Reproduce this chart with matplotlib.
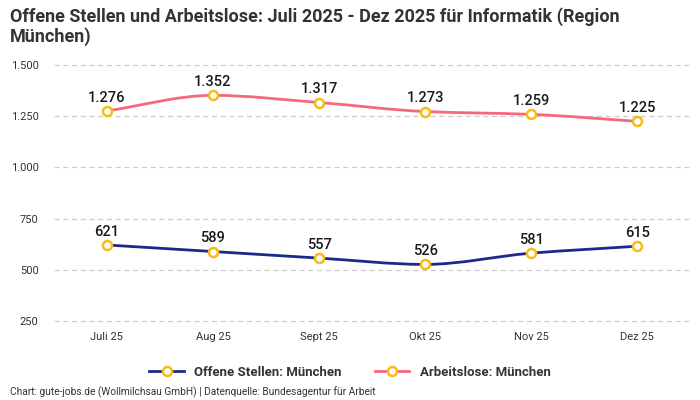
import numpy as np
import matplotlib
matplotlib.use("Agg")
import matplotlib.pyplot as plt
from matplotlib.path import Path
from matplotlib.patches import PathPatch
from matplotlib.lines import Line2D
from matplotlib.ticker import FuncFormatter

plt.rcParams['font.family'] = ['Roboto', 'DejaVu Sans']

monate = ['Juli 25', 'Aug 25', 'Sept 25', 'Okt 25', 'Nov 25', 'Dez 25']
offene_stellen = [621, 589, 557, 526, 581, 615]
arbeitslose = [1276, 1352, 1317, 1273, 1259, 1225]

BLAU = '#1b2a8a'
ROSA = '#f7677f'
GELB = '#f6bb1a'


def de_zahl(v):
    return f"{int(round(v)):,}".replace(',', '.')


def glatter_pfad(x, y):
    # monotone kubische Kurve (Fritsch-Carlson) als Bezier-Pfad
    x = np.asarray(x, float)
    y = np.asarray(y, float)
    h = np.diff(x)
    d = np.diff(y) / h
    m = np.zeros_like(y)
    m[0], m[-1] = d[0], d[-1]
    for i in range(1, len(y) - 1):
        if d[i - 1] * d[i] <= 0:
            m[i] = 0
        else:
            m[i] = 2 / (1 / d[i - 1] + 1 / d[i])
    verts = [(x[0], y[0])]
    codes = [Path.MOVETO]
    for i in range(len(x) - 1):
        verts += [(x[i] + h[i] / 3, y[i] + m[i] * h[i] / 3),
                  (x[i + 1] - h[i] / 3, y[i + 1] - m[i + 1] * h[i] / 3),
                  (x[i + 1], y[i + 1])]
        codes += [Path.CURVE4] * 3
    return Path(verts, codes)


fig = plt.figure(figsize=(7, 4), dpi=100)
ax = fig.add_axes([0.077, 0.19, 0.909, 0.6525])

xs = np.arange(len(monate))
for werte, farbe in [(offene_stellen, BLAU), (arbeitslose, ROSA)]:
    ax.add_patch(PathPatch(glatter_pfad(xs, werte), facecolor='none',
                           edgecolor=farbe, lw=2, zorder=3))
    ax.plot(xs, werte, ls='none', marker='o', ms=6.5, mfc='white',
            mec=GELB, mew=1.8, zorder=4)
    for xi, v in zip(xs, werte):
        ax.annotate(de_zahl(v), (xi, v), xytext=(0, 4.5), textcoords='offset points',
                    ha='center', va='bottom', fontsize=10.5, fontweight='medium',
                    color='#1a1a1a', zorder=5)

ax.set_xlim(-0.5, len(monate) - 0.5)
ax.set_ylim(235, 1510)
ax.set_yticks([250, 500, 750, 1000, 1250, 1500])
ax.yaxis.set_major_formatter(FuncFormatter(lambda v, p: de_zahl(v)))
ax.set_xticks(xs)
ax.set_xticklabels(monate)
ax.tick_params(axis='both', length=0, labelsize=8, colors='#333333')
ax.tick_params(axis='x', pad=6)
ax.tick_params(axis='y', pad=11)
ax.grid(axis='y', ls=(0, (4, 3)), color='#cccccc', lw=0.9)
ax.set_axisbelow(True)
for s in ax.spines.values():
    s.set_visible(False)

fig.text(0.014, 0.982, 'Offene Stellen und Arbeitslose: Juli 2025 - Dez 2025 für Informatik (Region\nMünchen)',
         ha='left', va='top', fontsize=13, fontweight='bold', color='#333333', linespacing=1.1)

griffe = [Line2D([0], [0], color=BLAU, lw=2, marker='o', ms=6.5, mfc='white', mec=GELB, mew=1.8),
          Line2D([0], [0], color=ROSA, lw=2, marker='o', ms=6.5, mfc='white', mec=GELB, mew=1.8)]
leg = fig.legend(griffe, ['Offene Stellen: München', 'Arbeitslose: München'],
                 loc='center', bbox_to_anchor=(0.5, 0.07), ncol=2, frameon=False,
                 fontsize=9.5, handlelength=2.6, columnspacing=2.5)
for t in leg.get_texts():
    t.set_fontweight('bold')
    t.set_color('#333333')

fig.text(0.014, 0.004, 'Chart: gute-jobs.de (Wollmilchsau GmbH) | Datenquelle: Bundesagentur für Arbeit',
         ha='left', va='bottom', fontsize=7.3, color='#333333')

fig.savefig('out.png', dpi=100)
